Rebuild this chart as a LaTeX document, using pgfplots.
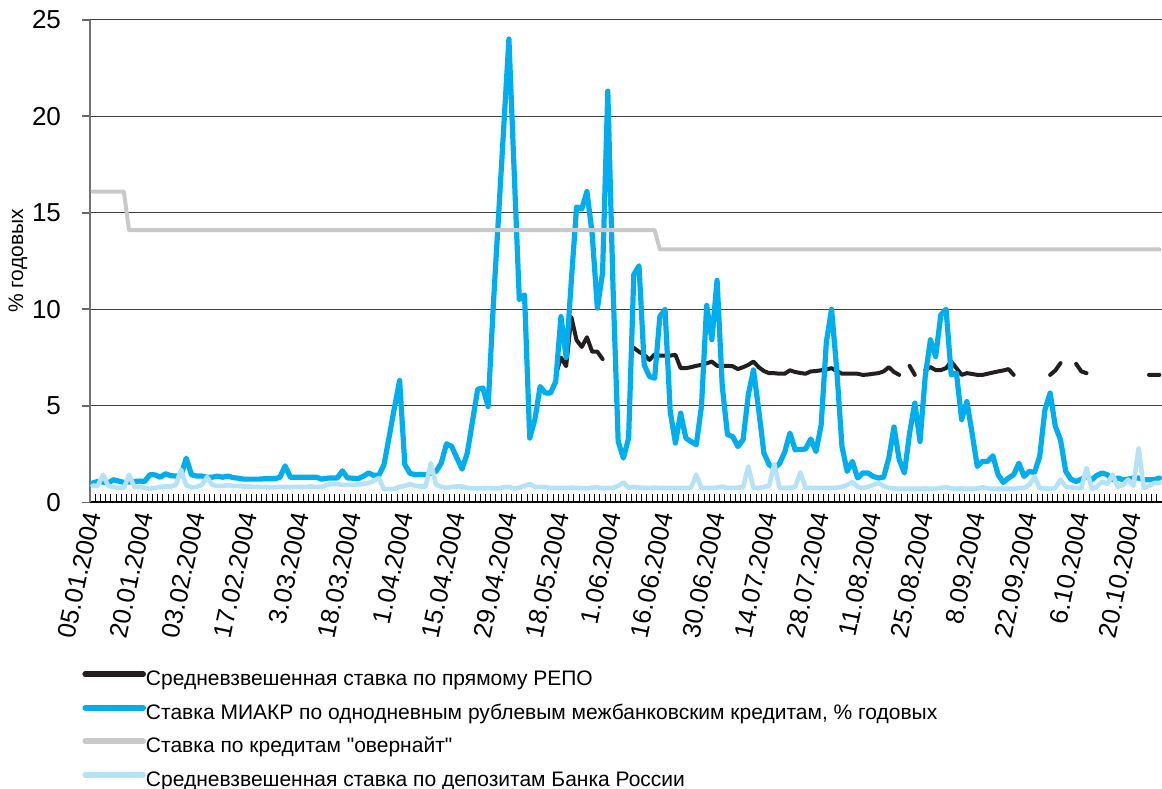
\documentclass[border=0pt]{standalone}
\usepackage{fontspec}
\setmainfont{Liberation Sans}[Ligatures=TeXOff]
\usepackage{pgfplots}
\usepackage{pgfplotstable}
\pgfplotsset{compat=1.18}

\definecolor{repo}{RGB}{35,31,32}
\definecolor{miacr}{RGB}{0,174,239}
\definecolor{overn}{RGB}{200,201,203}
\definecolor{depo}{RGB}{182,226,248}

% i = trading day; repo = REPO rate, miacr = MIACR, overn = overnight, depo = deposits
\pgfplotstableread{
i repo miacr overn depo
0 nan 1.0 16.1 0.86
1 nan 1.08 16.1 0.85
2 nan 1.05 16.1 1.43
3 nan 1.0 16.1 0.85
4 nan 1.17 16.1 0.8
5 nan 1.1 16.1 0.75
6 nan 1.03 16.1 0.74
7 nan 1.05 14.1 1.43
8 nan 1.08 14.1 0.8
9 nan 1.1 14.1 0.8
10 nan 1.08 14.1 0.75
11 nan 1.43 14.1 0.7
12 nan 1.42 14.1 0.75
13 nan 1.3 14.1 0.8
14 nan 1.48 14.1 0.82
15 nan 1.38 14.1 0.82
16 nan 1.36 14.1 0.9
17 nan 1.4 14.1 1.69
18 nan 2.29 14.1 0.88
19 nan 1.43 14.1 0.78
20 nan 1.36 14.1 0.8
21 nan 1.36 14.1 0.9
22 nan 1.3 14.1 1.31
23 nan 1.3 14.1 0.9
24 nan 1.36 14.1 0.85
25 nan 1.3 14.1 0.85
26 nan 1.36 14.1 0.88
27 nan 1.28 14.1 0.85
28 nan 1.25 14.1 0.85
29 nan 1.2 14.1 0.82
30 nan 1.2 14.1 0.82
31 nan 1.2 14.1 0.8
32 nan 1.2 14.1 0.8
33 nan 1.22 14.1 0.8
34 nan 1.22 14.1 0.78
35 nan 1.22 14.1 0.78
36 nan 1.3 14.1 0.8
37 nan 1.89 14.1 0.8
38 nan 1.3 14.1 0.78
39 nan 1.3 14.1 0.8
40 nan 1.3 14.1 0.8
41 nan 1.3 14.1 0.8
42 nan 1.3 14.1 0.82
43 nan 1.3 14.1 0.8
44 nan 1.2 14.1 0.8
45 nan 1.25 14.1 0.9
46 nan 1.26 14.1 0.95
47 nan 1.26 14.1 0.95
48 nan 1.63 14.1 0.9
49 nan 1.26 14.1 0.9
50 nan 1.25 14.1 0.9
51 nan 1.22 14.1 0.92
52 nan 1.35 14.1 0.95
53 nan 1.52 14.1 1.0
54 nan 1.4 14.1 1.1
55 nan 1.4 14.1 1.26
56 nan 1.95 14.1 0.68
57 nan 3.41 14.1 0.68
58 nan 4.9 14.1 0.7
59 nan 6.31 14.1 0.8
60 nan 1.95 14.1 0.85
61 nan 1.5 14.1 0.95
62 nan 1.43 14.1 0.85
63 nan 1.45 14.1 0.82
64 nan 1.42 14.1 0.82
65 nan 1.5 14.1 2.03
66 nan 1.6 14.1 0.91
67 nan 2.03 14.1 0.8
68 nan 3.03 14.1 0.75
69 nan 2.9 14.1 0.8
70 nan 2.3 14.1 0.82
71 nan 1.72 14.1 0.82
72 nan 2.55 14.1 0.75
73 nan 4.2 14.1 0.72
74 nan 5.86 14.1 0.72
75 nan 5.92 14.1 0.72
76 nan 4.96 14.1 0.74
77 nan 10.2 14.1 0.72
78 nan 14.8 14.1 0.72
79 nan 19.4 14.1 0.78
80 nan 24.0 14.1 0.8
81 nan 17.2 14.1 0.72
82 nan 10.5 14.1 0.75
83 nan 10.75 14.1 0.85
84 nan 3.33 14.1 0.95
85 nan 4.3 14.1 0.8
86 nan 6.0 14.1 0.8
87 nan 5.66 14.1 0.78
88 nan 5.66 14.1 0.74
89 6.6 6.26 14.1 0.74
90 7.5 9.62 14.1 0.74
91 7.05 7.5 14.1 0.74
92 9.6 11.5 14.1 0.76
93 8.4 15.3 14.1 0.74
94 8.05 15.2 14.1 0.74
95 8.55 16.1 14.1 0.72
96 7.8 13.9 14.1 0.76
97 7.8 10.06 14.1 0.78
98 7.42 11.9 14.1 0.72
99 nan 21.3 14.1 0.74
100 nan 11.2 14.1 0.75
101 nan 3.15 14.1 0.85
102 nan 2.29 14.1 1.03
103 nan 3.33 14.1 0.75
104 8.0 11.8 14.1 0.8
105 7.8 12.25 14.1 0.76
106 7.64 7.12 14.1 0.74
107 7.38 6.52 14.1 0.74
108 7.66 6.43 14.1 0.76
109 7.6 9.62 13.1 0.74
110 7.6 10.0 13.1 0.74
111 7.6 4.7 13.1 0.74
112 7.64 3.07 13.1 0.74
113 6.95 4.62 13.1 0.74
114 6.95 3.33 13.1 0.74
115 7.0 3.15 13.1 0.76
116 7.07 2.98 13.1 1.43
117 7.12 4.96 13.1 0.74
118 7.2 10.2 13.1 0.74
119 7.29 8.42 13.1 0.74
120 7.07 11.5 13.1 0.76
121 7.07 6.0 13.1 0.82
122 7.07 3.5 13.1 0.74
123 7.05 3.41 13.1 0.74
124 6.9 2.89 13.1 0.76
125 7.0 3.24 13.1 0.78
126 7.12 5.57 13.1 1.86
127 7.29 6.86 13.1 0.74
128 7.0 4.79 13.1 0.74
129 6.8 2.55 13.1 0.8
130 6.69 1.95 13.1 0.85
131 6.69 1.78 13.1 2.0
132 6.66 2.0 13.1 0.74
133 6.66 2.6 13.1 0.74
134 6.84 3.59 13.1 0.74
135 6.75 2.72 13.1 0.8
136 6.7 2.74 13.1 1.55
137 6.66 2.76 13.1 0.74
138 6.78 3.28 13.1 0.74
139 6.8 2.63 13.1 0.74
140 6.84 4.0 13.1 0.74
141 6.88 8.3 13.1 0.74
142 6.95 10.0 13.1 0.74
143 6.8 6.86 13.1 0.76
144 6.66 2.89 13.1 0.8
145 6.66 1.6 13.1 0.9
146 6.66 2.12 13.1 1.05
147 6.66 1.26 13.1 0.8
148 6.6 1.52 13.1 0.74
149 6.62 1.52 13.1 0.8
150 6.66 1.34 13.1 0.9
151 6.69 1.26 13.1 1.0
152 6.78 1.3 13.1 0.85
153 7.0 2.29 13.1 0.74
154 6.75 3.9 13.1 0.72
155 6.6 2.2 13.1 0.7
156 nan 1.52 13.1 0.7
157 7.07 3.59 13.1 0.7
158 6.6 5.14 13.1 0.7
159 nan 3.15 13.1 0.7
160 6.86 6.52 13.1 0.72
161 7.0 8.42 13.1 0.7
162 6.85 7.55 13.1 0.7
163 6.85 9.71 13.1 0.75
164 6.95 10.0 13.1 0.78
165 7.29 6.6 13.1 0.72
166 6.95 6.69 13.1 0.7
167 6.6 4.28 13.1 0.72
168 6.69 5.22 13.1 0.7
169 6.65 3.59 13.1 0.7
170 6.6 1.86 13.1 0.72
171 6.6 2.12 13.1 0.78
172 6.66 2.12 13.1 0.72
173 6.72 2.41 13.1 0.7
174 6.78 1.43 13.1 0.7
175 6.83 1.03 13.1 0.7
176 6.9 1.26 13.1 0.7
177 6.6 1.43 13.1 0.7
178 nan 2.03 13.1 0.74
179 nan 1.34 13.1 0.74
180 nan 1.6 13.1 0.9
181 nan 1.55 13.1 1.34
182 nan 2.38 13.1 0.72
183 nan 4.79 13.1 0.72
184 6.6 5.66 13.1 0.7
185 6.83 3.93 13.1 0.74
186 7.21 3.24 13.1 1.17
187 nan 1.6 13.1 0.82
188 nan 1.2 13.1 0.78
189 7.17 1.08 13.1 0.74
190 6.78 1.2 13.1 0.74
191 6.69 1.34 13.1 1.78
192 nan 1.17 13.1 0.69
193 nan 1.4 13.1 0.82
194 nan 1.52 13.1 1.08
195 nan 1.43 13.1 0.95
196 nan 1.17 13.1 1.43
197 nan 1.26 13.1 0.8
198 nan 1.17 13.1 0.9
199 nan 1.2 13.1 1.17
200 nan 1.26 13.1 0.85
201 nan 1.26 13.1 2.81
202 nan 1.17 13.1 0.74
203 6.6 1.17 13.1 0.85
204 6.6 1.17 13.1 1.0
205 6.6 1.26 13.1 1.0
}\rates

\begin{document}
\begin{tikzpicture}
\begin{axis}[
    scale only axis,
    width=536pt, height=241.3pt,
    xmin=-0.5, xmax=205.5,
    ymin=0, ymax=25,
    axis lines*=left,
    x axis line style={black, line width=0.9pt},
    y axis line style={black!55, line width=0.8pt},
    ytick={0,5,...,25},
    ymajorgrids,
    grid style={black!75, line width=0.6pt},
    major tick length=4pt,
    minor tick length=4pt,
    ytick align=outside,
    ytick style={black!60, line width=0.8pt},
    xtick={0,10,...,200},
    xticklabels={05.01.2004,20.01.2004,03.02.2004,17.02.2004,3.03.2004,18.03.2004,1.04.2004,15.04.2004,29.04.2004,18.05.2004,1.06.2004,16.06.2004,30.06.2004,14.07.2004,28.07.2004,11.08.2004,25.08.2004,8.09.2004,22.09.2004,6.10.2004,20.10.2004},
    minor xtick={-0.5,0.5,...,205.5},
    xtick align=inside,
    major x tick style={draw=none},
    minor x tick style={black, line width=0.5pt},
    xticklabel style={yshift=-5pt, rotate=78, anchor=east, font=\fontsize{12.75}{14}\selectfont, inner sep=0pt},
    yticklabel style={font=\fontsize{13}{15}\selectfont, xshift=-7pt},
    /pgf/number format/assume math mode=true,
    ylabel={\% годовых},
    every axis y label/.style={at={(axis description cs:-0.0672,0.5)}, rotate=90, anchor=center, font=\fontsize{10.5}{12}\selectfont},
    unbounded coords=jump,
    legend style={at={(axis description cs:0,0)}, anchor=north west,
        xshift=-4pt, yshift=-83.5pt, draw=none, fill=none, inner sep=0pt,
        font=\fontsize{10.5}{12}\selectfont, row sep=6.25pt,
        nodes={inner sep=0pt, text height=8pt, text depth=2.5pt},
        /tikz/every even column/.append style={column sep=1pt}},
    legend cell align=left,
    legend image code/.code={\draw[#1, line width=2.8pt, line cap=round] (1pt,3pt) -- (30pt,3pt);},
]
\addplot[repo, line width=2pt, line join=round, line cap=round] table[x=i, y=repo] {\rates};
\addlegendentry{Средневзвешенная ставка по прямому РЕПО}
\addplot[miacr, line width=2.6pt, line join=round, line cap=round] table[x=i, y=miacr] {\rates};
\addlegendentry{Ставка МИАКР по однодневным рублевым межбанковским кредитам, \% годовых}
\addplot[overn, line width=2pt, line join=round, line cap=round] table[x=i, y=overn] {\rates};
\addlegendentry{Ставка по кредитам "овернайт"}
\addplot[depo, line width=2.3pt, line join=round, line cap=round] table[x=i, y=depo] {\rates};
\addlegendentry{Средневзвешенная ставка по депозитам Банка России}
\end{axis}
\pgfresetboundingbox
\path[use as bounding box] ([xshift=-45pt,yshift=-143.2pt]current axis.south west) rectangle ([yshift=9.85pt]current axis.north east);
\end{tikzpicture}
\end{document}
